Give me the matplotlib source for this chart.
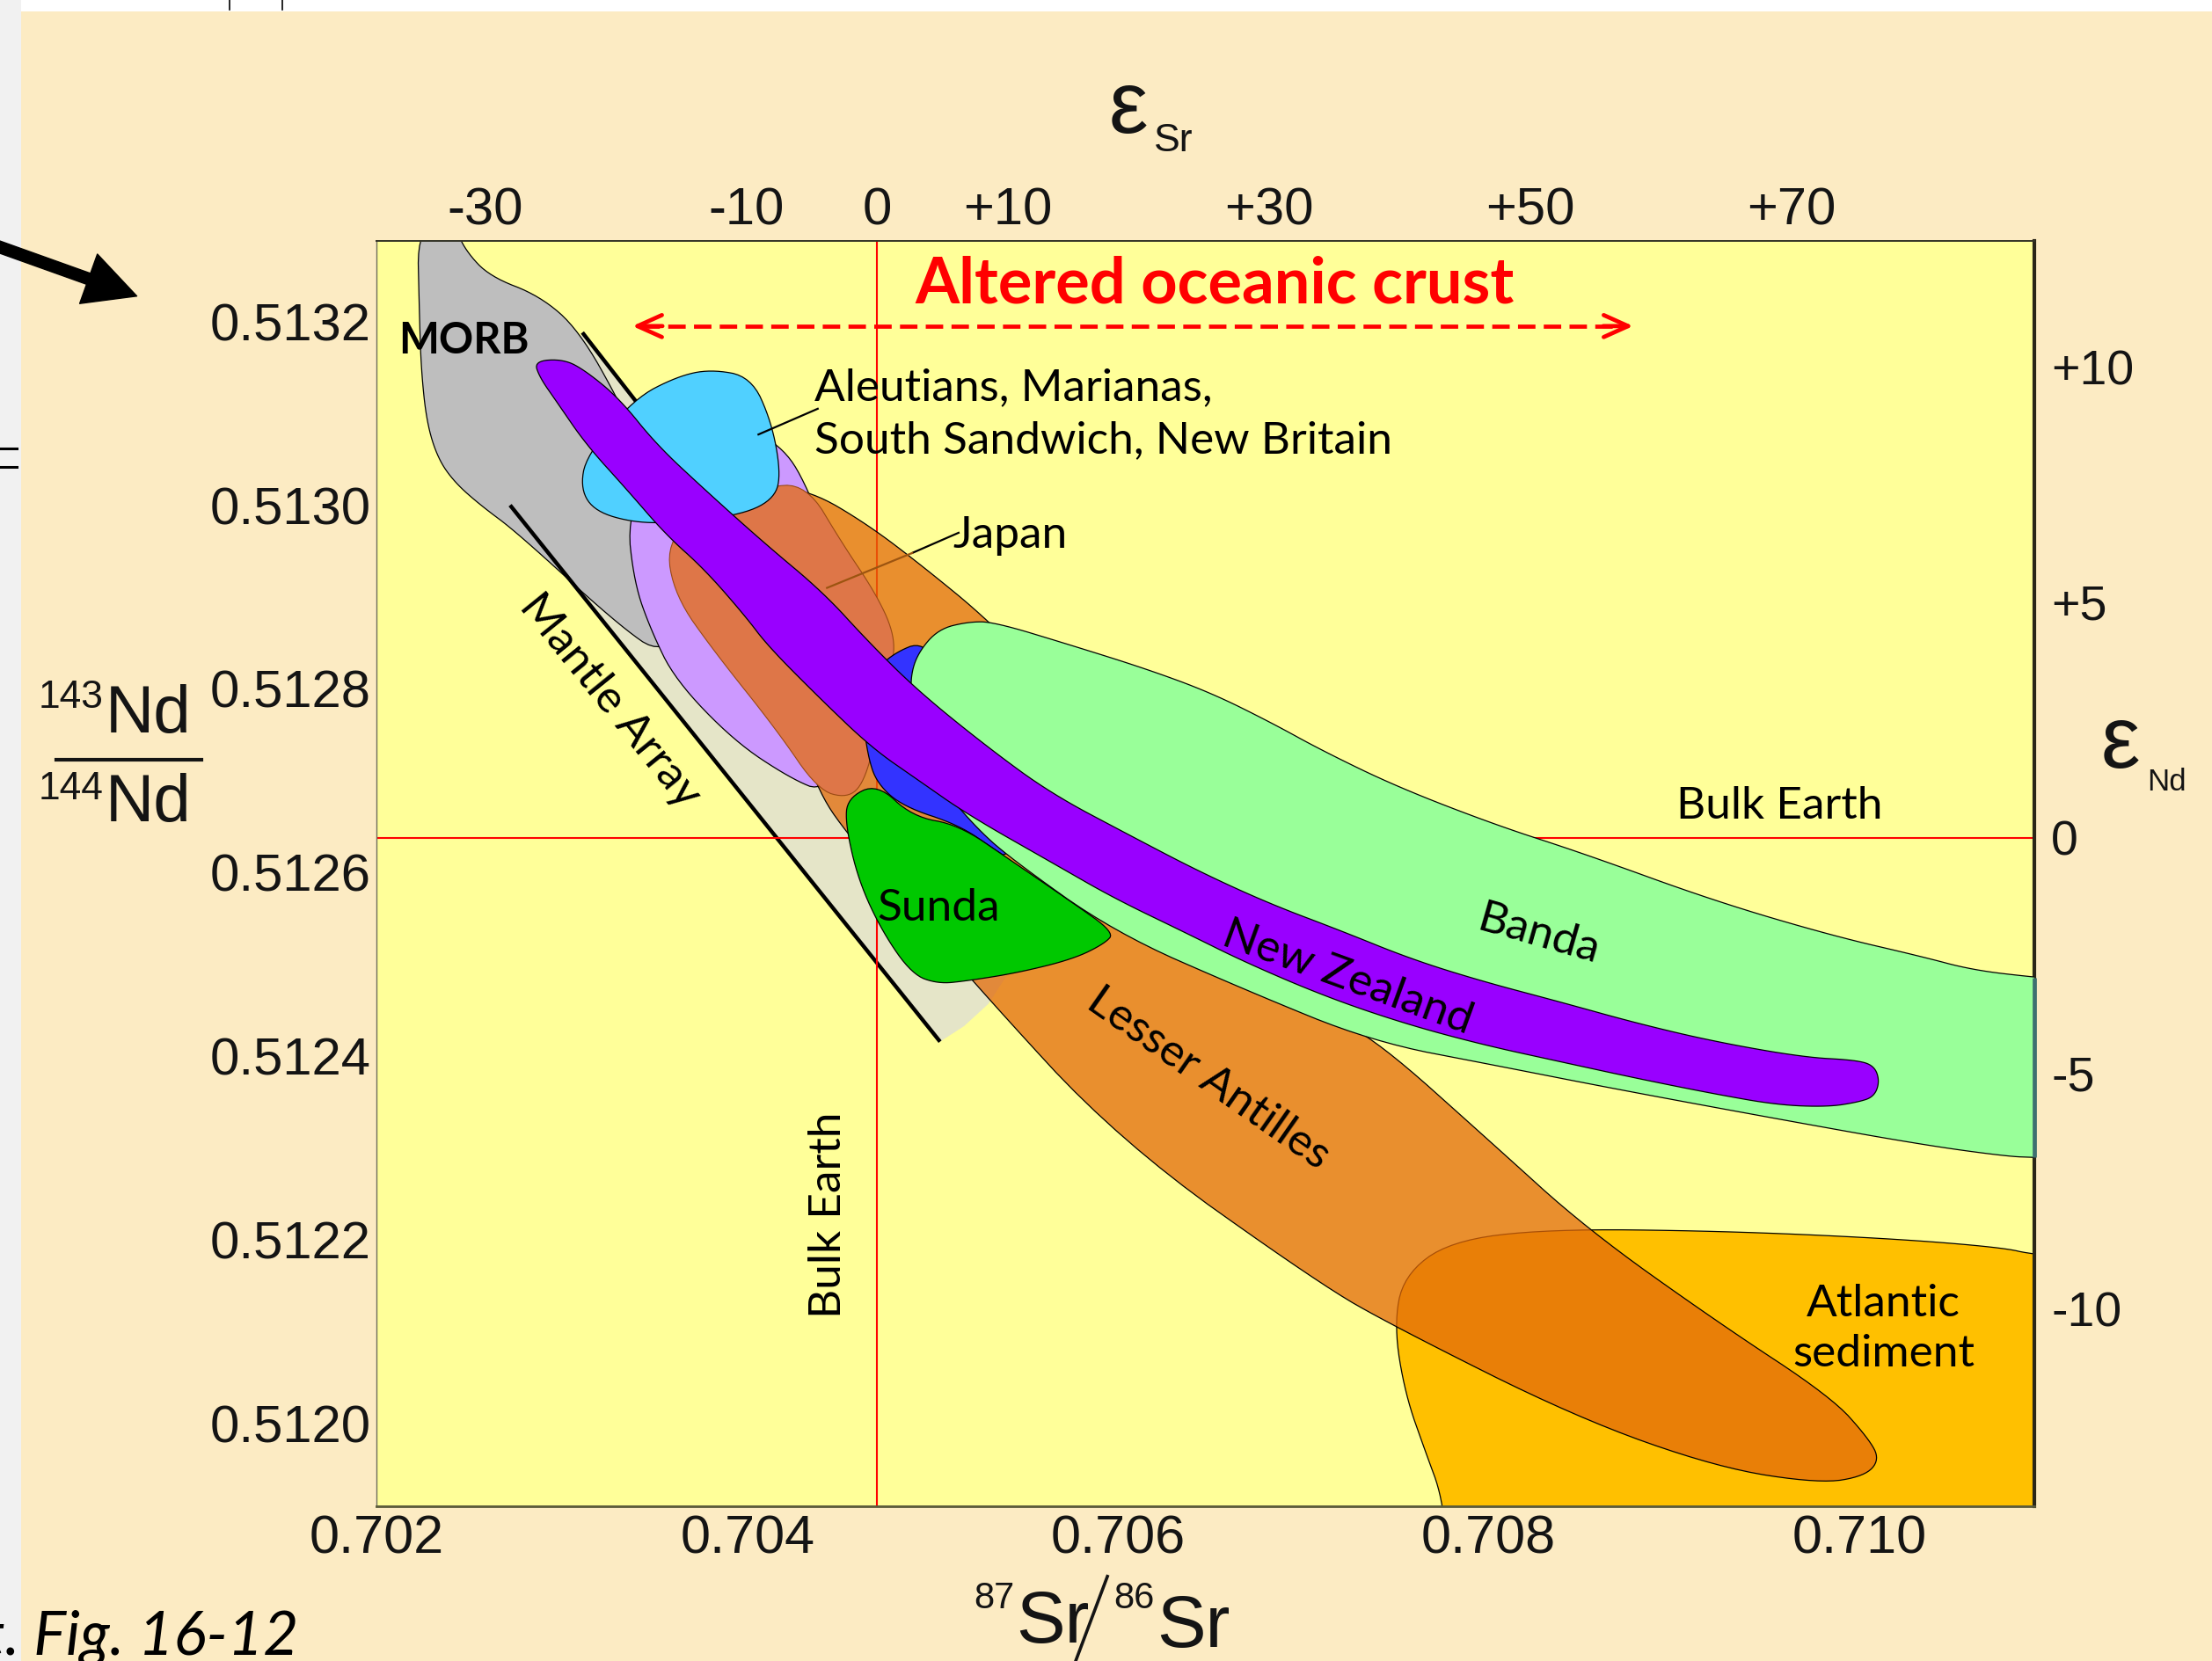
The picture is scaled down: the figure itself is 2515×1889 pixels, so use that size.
import numpy as np
import matplotlib
matplotlib.use("Agg")
import matplotlib.pyplot as plt
from matplotlib import font_manager
from matplotlib.patches import Polygon, Rectangle, FancyArrowPatch
from matplotlib.lines import Line2D

# reservoir values used for the epsilon scales
SR_UR = 0.7047
ND_CHUR = 0.512638

SR_TICKS = [0.702, 0.704, 0.706, 0.708, 0.710]
SR_LABELS = ["0.702", "0.704", "0.706", "0.708", "0.710"]
ND_TICKS = [0.5120, 0.5122, 0.5124, 0.5126, 0.5128, 0.5130, 0.5132]
ND_LABELS = ["0.5120", "0.5122", "0.5124", "0.5126", "0.5128", "0.5130", "0.5132"]
EPS_SR_TICKS = [-30, -10, 0, 10, 30, 50, 70]
EPS_SR_LABELS = ["-30", "-10", "0", "+10", "+30", "+50", "+70"]
EPS_ND_TICKS = [10, 5, 0, -5, -10]
EPS_ND_LABELS = ["+10", "+5", "0", "-5", "-10"]

# field outlines as (87Sr/86Sr, 143Nd/144Nd) vertices
MORB_SR = [0.70222, 0.70242, 0.70248, 0.70261, 0.70288, 0.70309, 0.70332, 0.70358,
           0.70370, 0.70355, 0.70329, 0.70276, 0.70256, 0.70242, 0.70233, 0.70227,
           0.70224, 0.70223]
MORB_ND = [0.513304, 0.513304, 0.513277, 0.513249, 0.513228, 0.513191, 0.513109, 0.512997,
           0.512890, 0.512835, 0.512872, 0.512970, 0.513000, 0.513025, 0.513051, 0.513090,
           0.513148, 0.513212]

MANTLE_SR = [0.70311, 0.70343, 0.70454, 0.70530, 0.70541, 0.70530, 0.70517, 0.70504, 0.70272, 0.70290]
MANTLE_ND = [0.513188, 0.513105, 0.512829, 0.512614, 0.512491, 0.512457, 0.512433, 0.512416, 0.512997, 0.513090]
MANTLE_UPPER_SR = [0.70311, 0.70343]
MANTLE_UPPER_ND = [0.513188, 0.513105]
MANTLE_LOWER_SR = [0.70272, 0.70504]
MANTLE_LOWER_ND = [0.513000, 0.512416]

LILAC_SR = [0.70335, 0.70339, 0.70348, 0.70361, 0.70393, 0.70423, 0.70442,
            0.70461, 0.70454, 0.70432, 0.70418, 0.70393, 0.70355]
LILAC_ND = [0.512990, 0.512915, 0.512864, 0.512810, 0.512743, 0.512703, 0.512687,
            0.512752, 0.512905, 0.513023, 0.513066, 0.513090, 0.513074]

ALEUT_SR = [0.70380, 0.70402, 0.70413, 0.70418, 0.70415, 0.70398, 0.70362,
            0.70339, 0.70318, 0.70310, 0.70313, 0.70339, 0.70362]
ALEUT_ND = [0.513148, 0.513140, 0.513091, 0.513036, 0.513008, 0.512990, 0.512981,
            0.512981, 0.512993, 0.513017, 0.513054, 0.513116, 0.513140]

JAPAN_SR = [0.70377, 0.70408, 0.70432, 0.70451, 0.70469, 0.70479, 0.70479, 0.70470,
            0.70463, 0.70454, 0.70438, 0.70416, 0.70382, 0.70361, 0.70356]
JAPAN_ND = [0.512997, 0.513020, 0.513023, 0.512959, 0.512905, 0.512862, 0.512829, 0.512752,
            0.512698, 0.512681, 0.512690, 0.512755, 0.512841, 0.512901, 0.512959]

ANTILLES_SR = [0.70408, 0.70434, 0.70465, 0.70495, 0.70530, 0.70575, 0.70651, 0.70712,
               0.70740, 0.70801, 0.70853, 0.70924, 0.70985, 0.71005, 0.71011, 0.71003,
               0.70979, 0.70924, 0.70847, 0.70749, 0.70709, 0.70601, 0.70522, 0.70454,
               0.70437, 0.70423, 0.70408, 0.70400]
ANTILLES_ND = [0.513020, 0.513016, 0.512979, 0.512933, 0.512875, 0.512783, 0.512568, 0.512445,
               0.512417, 0.512307, 0.512212, 0.512110, 0.512029, 0.511984, 0.511961, 0.511943,
               0.511935, 0.511952, 0.512007, 0.512106, 0.512152, 0.512307, 0.512480, 0.512641,
               0.512693, 0.512783, 0.512905, 0.512982]

ATLANTIC_SR = [0.70778, 0.70775, 0.70766, 0.70755, 0.70749, 0.70754, 0.70779, 0.70832,
               0.70924, 0.71015, 0.71077, 0.71094, 0.71160, 0.71160]
ATLANTIC_ND = [0.511850, 0.511920, 0.511969, 0.512032, 0.512106, 0.512161, 0.512199, 0.512212,
               0.512210, 0.512202, 0.512192, 0.512184, 0.512172, 0.511850]

BLUE_SR = [0.70495, 0.70479, 0.70467, 0.70462, 0.70465, 0.70470, 0.70484,
           0.70514, 0.70533, 0.70541, 0.70545, 0.70522, 0.70507]
BLUE_ND = [0.512852, 0.512839, 0.512816, 0.512775, 0.512727, 0.512697, 0.512672,
           0.512652, 0.512626, 0.512615, 0.512675, 0.512752, 0.512813]

SUNDA_SR = [0.70454, 0.70470, 0.70489, 0.70514, 0.70541, 0.70575, 0.70598, 0.70593,
            0.70576, 0.70546, 0.70518, 0.70503, 0.70489, 0.70473, 0.70460, 0.70453]
SUNDA_ND = [0.512681, 0.512697, 0.512661, 0.512652, 0.512615, 0.512568, 0.512535, 0.512523,
            0.512506, 0.512491, 0.512482, 0.512479, 0.512489, 0.512535, 0.512591, 0.512652]

BANDA_SR = [0.70489, 0.70488, 0.70492, 0.70503, 0.70519, 0.70533, 0.70574, 0.70615,
            0.70650, 0.70683, 0.70710, 0.70751, 0.70805, 0.70851, 0.70922, 0.70986,
            0.71033, 0.71061, 0.71095, 0.71116, 0.71116, 0.71095, 0.71080, 0.71033,
            0.70950, 0.70867, 0.70804, 0.70737, 0.70669, 0.70598, 0.70541, 0.70522,
            0.70503, 0.70492]
BANDA_ND = [0.512784, 0.512813, 0.512839, 0.512865, 0.512873, 0.512873, 0.512848, 0.512822,
            0.512796, 0.512763, 0.512733, 0.512693, 0.512651, 0.512621, 0.512569, 0.512531,
            0.512509, 0.512494, 0.512486, 0.512483, 0.512288, 0.512290, 0.512291, 0.512304,
            0.512334, 0.512365, 0.512390, 0.512416, 0.512472, 0.512535, 0.512617, 0.512652,
            0.512698, 0.512744]

NZ_SR = [0.70285, 0.70301, 0.70313, 0.70331, 0.70351, 0.70377, 0.70409, 0.70441,
         0.70465, 0.70492, 0.70530, 0.70564, 0.70606, 0.70644, 0.70682, 0.70720,
         0.70758, 0.70796, 0.70839, 0.70880, 0.70922, 0.70970, 0.70998, 0.71008,
         0.71011, 0.71008, 0.70999, 0.70983, 0.70956, 0.70922, 0.70880, 0.70839,
         0.70796, 0.70754, 0.70712, 0.70669, 0.70636, 0.70598, 0.70566, 0.70519,
         0.70492, 0.70467, 0.70438, 0.70411, 0.70399, 0.70377, 0.70356, 0.70335,
         0.70313, 0.70297, 0.70288]
NZ_ND = [0.513157, 0.513159, 0.513146, 0.513116, 0.513066, 0.513017, 0.512959, 0.512905,
         0.512852, 0.512798, 0.512736, 0.512686, 0.512641, 0.512601, 0.512566, 0.512537,
         0.512506, 0.512482, 0.512459, 0.512436, 0.512416, 0.512399, 0.512396, 0.512390,
         0.512373, 0.512356, 0.512350, 0.512345, 0.512347, 0.512359, 0.512376, 0.512394,
         0.512413, 0.512436, 0.512465, 0.512502, 0.512535, 0.512572, 0.512609, 0.512663,
         0.512701, 0.512736, 0.512792, 0.512847, 0.512879, 0.512930, 0.512968, 0.513017,
         0.513066, 0.513113, 0.513139]

# leader lines
JAPAN_LEADER_SR = [0.70514, 0.70489, 0.70443]
JAPAN_LEADER_ND = [0.512970, 0.512948, 0.512910]
ALEUT_LEADER_SR = [0.70438, 0.70406]
ALEUT_LEADER_ND = [0.513105, 0.513077]

# range of altered oceanic crust
AOC_SR = [0.70338, 0.70878]
AOC_ND = 0.513195

installed = {f.name for f in font_manager.fontManager.ttflist}
SANS = "Liberation Sans"
HAND = "Lato" if "Lato" in installed else "DejaVu Sans"

CREAM = "#FCEBC3"
INK = "#141414"


def chaikin(sr, nd, rounds=3):
    pts = np.column_stack([sr, nd]).astype(float)
    for _ in range(rounds):
        nxt = np.roll(pts, -1, axis=0)
        out = np.empty((2 * len(pts), 2))
        out[0::2] = 0.75 * pts + 0.25 * nxt
        out[1::2] = 0.25 * pts + 0.75 * nxt
        pts = out
    return pts


def field(ax, sr, nd, color, z, smooth=True, edge="black", lw=0.9):
    pts = chaikin(sr, nd) if smooth else np.column_stack([sr, nd])
    ax.add_patch(Polygon(pts, closed=True, facecolor=color, edgecolor=edge,
                         linewidth=lw, zorder=z))


def fx(px):
    return px / 1568


def fy(py):
    return 1 - py / 1178


fig = plt.figure(figsize=(25.15, 18.89), dpi=100)
fig.patch.set_facecolor("white")
fig.add_artist(Rectangle((fx(15), 0), 1, fy(8), transform=fig.transFigure,
                         facecolor=CREAM, edgecolor="none", zorder=0))
fig.add_artist(Rectangle((0, 0), fx(15), 1, transform=fig.transFigure,
                         facecolor="#F1F1F1", edgecolor="none", zorder=0))
for py in (318, 331):
    fig.add_artist(Line2D([0, fx(12)], [fy(py), fy(py)], transform=fig.transFigure,
                          color="black", lw=2.2))
for px in (163, 200):
    fig.add_artist(Line2D([fx(px), fx(px)], [1, fy(7)], transform=fig.transFigure,
                          color="black", lw=1.2))
fig.add_artist(FancyArrowPatch((fx(-12), fy(171)), (fx(97), fy(210)),
                               transform=fig.transFigure, color="black",
                               arrowstyle="simple,head_length=4.2,head_width=4.3,tail_width=0.95",
                               mutation_scale=10, shrinkA=0, shrinkB=0))

ax = fig.add_axes([fx(267), fy(1068), fx(1442) - fx(267), fy(171) - fy(1068)])
ax.set_facecolor("#FFFF99")
ax.set_xlim(0.702, 0.710944)
ax.set_ylim(0.5119106, 0.5132875)

# background fields
field(ax, MANTLE_SR, MANTLE_ND, "#E5E5C8", 0.9, smooth=False, edge="none")
field(ax, MORB_SR, MORB_ND, "#BEBEBE", 1.0)
ax.plot(MANTLE_UPPER_SR, MANTLE_UPPER_ND, color="black", lw=3.2, zorder=1.5,
        solid_capstyle="butt")
ax.plot(MANTLE_LOWER_SR, MANTLE_LOWER_ND, color="black", lw=3.2, zorder=1.5,
        solid_capstyle="butt")

# bulk earth reference lines
ax.axvline(SR_UR, color="red", lw=1.5, zorder=1.8)
ax.axhline(ND_CHUR, color="red", lw=1.5, zorder=1.8)

field(ax, LILAC_SR, LILAC_ND, "#CC99FF", 2.0)
field(ax, ATLANTIC_SR, ATLANTIC_ND, "#FFC000", 2.2)
field(ax, ANTILLES_SR, ANTILLES_ND, (226 / 255, 106 / 255, 10 / 255, 0.75), 2.5)
field(ax, JAPAN_SR, JAPAN_ND, "#DE7648", 3.0, edge="#9A4A14", lw=0.8)
field(ax, ALEUT_SR, ALEUT_ND, "#50D0FF", 3.2)
field(ax, BLUE_SR, BLUE_ND, "#3333FF", 3.4)
field(ax, SUNDA_SR, SUNDA_ND, "#00C800", 3.6)
field(ax, BANDA_SR, BANDA_ND, "#99FF99", 3.8)
field(ax, NZ_SR, NZ_ND, "#9900FF", 4.0)

# leader lines
ax.plot(JAPAN_LEADER_SR[:2], JAPAN_LEADER_ND[:2], color="black", lw=1.6, zorder=4.5)
ax.plot(JAPAN_LEADER_SR[1:], JAPAN_LEADER_ND[1:], color="#9C5410", lw=1.6, zorder=4.5)
ax.plot(ALEUT_LEADER_SR, ALEUT_LEADER_ND, color="black", lw=1.6, zorder=4.5)

# altered oceanic crust range
span = AOC_SR[1] - AOC_SR[0]
ax.plot([AOC_SR[0] + 0.01 * span, AOC_SR[1] - 0.01 * span], [AOC_ND, AOC_ND],
        color="red", lw=3.4, dashes=(4.2, 2.0), zorder=4.5, solid_capstyle="butt")
for tip, back in ((AOC_SR[0], AOC_SR[0] + 0.03 * span), (AOC_SR[1], AOC_SR[1] - 0.03 * span)):
    ax.annotate("", xy=(tip, AOC_ND), xytext=(back, AOC_ND),
                arrowprops=dict(arrowstyle="->,head_length=1.0,head_width=0.45",
                                color="red", lw=3.4, shrinkA=0, shrinkB=0,
                                mutation_scale=20), zorder=4.6)
ax.text(0.70652, 0.513240, "Altered oceanic crust", color="#FF0000", fontsize=52,
        fontfamily=HAND, fontweight="bold", ha="center", va="center", zorder=5)

# field labels
lab = dict(fontfamily=HAND, fontsize=37, color="black", zorder=5)
ax.text(0.70212, 0.513179, "MORB", ha="left", va="center", fontweight="bold",
        **{**lab, "fontsize": 35})
ax.text(0.70436, 0.513099, "Aleutians, Marianas,\nSouth Sandwich, New Britain",
        ha="left", va="center", linespacing=1.38, **lab)
ax.text(0.70511, 0.512967, "Japan", ha="left", va="center", **lab)
ax.text(0.70326, 0.512787, "Mantle Array", ha="center", va="center", rotation=-51,
        rotation_mode="anchor", **lab)
ax.text(0.70503, 0.512561, "Sunda", ha="center", va="center", **lab)
ax.text(0.70444, 0.512227, "Bulk Earth", ha="center", va="center", rotation=90, **lab)
ax.text(0.70957, 0.512672, "Bulk Earth", ha="center", va="center", **lab)
ax.text(0.70827, 0.512532, "Banda", ha="center", va="center", rotation=-16,
        rotation_mode="anchor", **lab)
ax.text(0.70724, 0.512486, "New Zealand", ha="center", va="center", rotation=-20,
        rotation_mode="anchor", **lab)
ax.text(0.70649, 0.512376, "Lesser Antilles", ha="center", va="center", rotation=-35,
        rotation_mode="anchor", **lab)
ax.text(0.71013, 0.512103, "Atlantic\nsediment", ha="center", va="center",
        linespacing=1.3, **lab)

# frame
ax.spines["right"].set_linewidth(3.0)
ax.spines["right"].set_color("#2A2618")
ax.spines["left"].set_linewidth(1.0)
ax.spines["left"].set_color("#6E6E5A")
ax.spines["top"].set_linewidth(1.4)
ax.spines["top"].set_color("#333326")
ax.spines["bottom"].set_linewidth(2.0)
ax.spines["bottom"].set_color("#5A5A3A")
banda_edge = [nd for sr, nd in zip(BANDA_SR, BANDA_ND) if abs(sr - 0.71095) < 1e-7]
ax.plot([ax.get_xlim()[1]] * 2, banda_edge, color="#3E7070", lw=3.4, zorder=11,
        clip_on=False, solid_capstyle="butt")

ax.set_xticks(SR_TICKS, labels=SR_LABELS)
ax.set_yticks(ND_TICKS, labels=ND_LABELS)
ax.tick_params(axis="x", length=0, pad=7, labelsize=44, labelcolor=INK,
               labelfontfamily=SANS)
ax.tick_params(axis="y", length=0, pad=5, labelsize=43, labelcolor=INK,
               labelfontfamily=SANS)

secx = ax.secondary_xaxis("top", functions=(lambda s: (s / SR_UR - 1) * 1e4,
                                            lambda e: SR_UR * (1 + e / 1e4)))
secx.set_xticks(EPS_SR_TICKS, labels=EPS_SR_LABELS)
secx.tick_params(length=0, pad=5, labelsize=43, labelcolor=INK, labelfontfamily=SANS)
secy = ax.secondary_yaxis("right", functions=(lambda n: (n / ND_CHUR - 1) * 1e4,
                                              lambda e: ND_CHUR * (1 + e / 1e4)))
secy.set_yticks(EPS_ND_TICKS, labels=EPS_ND_LABELS)
secy.tick_params(length=0, pad=14, labelsize=40, labelcolor=INK, labelfontfamily=SANS)
for sec in (secx, secy):
    for sp in sec.spines.values():
        sp.set_visible(False)

# axis titles
fig.text(fx(800), fy(78), "\u03b5", fontsize=72, fontfamily=SANS, color=INK,
         ha="center", va="center")
fig.text(fx(832), fy(100), "Sr", fontsize=32, fontfamily=SANS, color=INK,
         ha="center", va="center")
fig.text(fx(1503), fy(528), "\u03b5", fontsize=72, fontfamily=SANS, color=INK,
         ha="center", va="center")
fig.text(fx(1536), fy(555), "Nd", fontsize=25, fontfamily=SANS, color=INK,
         ha="center", va="center")

fig.text(fx(50), fy(495), "143", fontsize=32, fontfamily=SANS, color=INK,
         ha="center", va="center")
fig.text(fx(105), fy(507), "Nd", fontsize=55, fontfamily=SANS, color=INK,
         ha="center", va="center")
fig.add_artist(Line2D([fx(40), fx(143)], [fy(539), fy(539)], transform=fig.transFigure,
                      color=INK, lw=3.0))
fig.text(fx(50), fy(560), "144", fontsize=32, fontfamily=SANS, color=INK,
         ha="center", va="center")
fig.text(fx(105), fy(570), "Nd", fontsize=55, fontfamily=SANS, color=INK,
         ha="center", va="center")

fig.text(fx(705), fy(1134), "87", fontsize=30, fontfamily=SANS, color=INK,
         ha="center", va="center")
fig.text(fx(746), fy(1151), "Sr", fontsize=60, fontfamily=SANS, color=INK,
         ha="center", va="center")
fig.add_artist(Line2D([fx(761), fx(785)], [fy(1182), fy(1118)], transform=fig.transFigure,
                      color=INK, lw=2.6))
fig.text(fx(804), fy(1134), "86", fontsize=30, fontfamily=SANS, color=INK,
         ha="center", va="center")
fig.text(fx(846), fy(1154), "Sr", fontsize=60, fontfamily=SANS, color=INK,
         ha="center", va="center")

fig.text(fx(-12), fy(1173), "t. Fig. 16-12", fontsize=50, fontfamily=HAND,
         style="italic", color="black", ha="left", va="baseline")

fig.savefig("out.png", dpi=100, facecolor=fig.get_facecolor())
